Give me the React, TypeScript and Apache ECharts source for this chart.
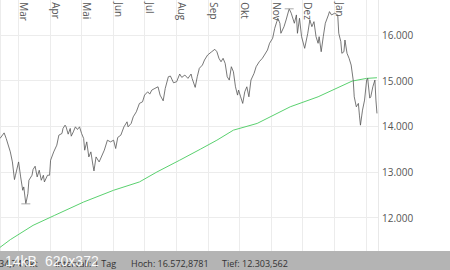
import React, { useEffect, useRef } from 'react';
import * as echarts from 'echarts';

const priceDates = [
  '2021-02-11','2021-02-15','2021-02-17','2021-02-21','2021-02-23','2021-02-25','2021-02-26',
  '2021-03-01','2021-03-03','2021-03-05','2021-03-06','2021-03-08','2021-03-10','2021-03-11','2021-03-14','2021-03-15','2021-03-17','2021-03-19','2021-03-21','2021-03-23','2021-03-25','2021-03-26','2021-03-29','2021-03-31',
  '2021-04-01','2021-04-04','2021-04-07','2021-04-09','2021-04-12','2021-04-13','2021-04-15','2021-04-16','2021-04-18','2021-04-20','2021-04-21','2021-04-23','2021-04-25','2021-04-27','2021-04-29',
  '2021-05-01','2021-05-03','2021-05-04','2021-05-06','2021-05-08','2021-05-10','2021-05-12','2021-05-13','2021-05-15','2021-05-18','2021-05-23','2021-05-26','2021-05-29',
  '2021-06-01','2021-06-03','2021-06-05','2021-06-08','2021-06-11','2021-06-14','2021-06-15','2021-06-18','2021-06-20','2021-06-23','2021-06-26','2021-06-29',
  '2021-07-01','2021-07-04','2021-07-06','2021-07-08','2021-07-11','2021-07-14','2021-07-16','2021-07-19','2021-07-21','2021-07-24','2021-07-26','2021-07-29',
  '2021-08-01','2021-08-04','2021-08-06','2021-08-09','2021-08-12','2021-08-15','2021-08-16','2021-08-19','2021-08-21','2021-08-23','2021-08-26','2021-08-28','2021-08-31',
  '2021-09-04','2021-09-07','2021-09-09','2021-09-11','2021-09-13','2021-09-15','2021-09-17','2021-09-19','2021-09-21','2021-09-23','2021-09-25','2021-09-27','2021-09-29','2021-09-30',
  '2021-10-02','2021-10-04','2021-10-06','2021-10-08','2021-10-10','2021-10-12','2021-10-15','2021-10-17','2021-10-20','2021-10-23','2021-10-25','2021-10-28','2021-10-30',
  '2021-11-02','2021-11-04','2021-11-06','2021-11-07','2021-11-09','2021-11-10','2021-11-13','2021-11-15','2021-11-18','2021-11-20','2021-11-23','2021-11-25','2021-11-26','2021-11-28','2021-11-30',
  '2021-12-03','2021-12-06','2021-12-08','2021-12-10','2021-12-12','2021-12-14','2021-12-16','2021-12-17','2021-12-19','2021-12-21','2021-12-23','2021-12-26','2021-12-27','2021-12-29',
  '2022-01-01','2022-01-04','2022-01-05','2022-01-07','2022-01-08','2022-01-10','2022-01-11','2022-01-13','2022-01-15','2022-01-17','2022-01-19','2022-01-20','2022-01-22','2022-01-24','2022-01-25','2022-01-26','2022-01-28','2022-01-30',
  '2022-02-01','2022-02-02','2022-02-04','2022-02-05','2022-02-07','2022-02-09','2022-02-10','2022-02-11'
];

const priceValues = [
  13735,13857,13735,13441,13221,12835,12930,
  13221,12893,12601,12674,12303.562,12528,12820,12930,13055,13127,12893,13040,12820,12930,12783,12930,12930,
  13259,13441,13588,13807,13844,13954,14026,13989,13829,13954,13785,13879,13989,13932,13989,
  13844,13735,13478,13660,13331,13441,13149,13024,13331,13221,13478,13697,13660,
  13697,13515,13757,13807,13989,14099,13989,14064,14208,14318,14502,14537,
  14684,14757,14706,14794,14831,14866,14684,14559,14831,15086,15101,14954,
  14976,15145,15072,15123,15050,15145,15050,14853,15086,15270,15342,15452,15561,
  15634,15686,15634,15489,15414,15489,15379,15086,15013,15305,15195,14866,14684,14794,
  14647,14502,14757,14866,14647,15013,15160,15305,15414,15489,15561,15671,15818,
  15928,16147,16292,16366,16257,16037,16182,16329,16572.8781,16476,16257,16439,16037,16366,15963,
  15708,16037,16329,16182,16292,15963,15818,15963,15634,15963,16257,16439,16511,16439,
  16476,16439,16037,15853,15599,15634,15890,15599,15489,15342,15013,14647,14428,14502,14246,14026,14355,14575,
  15013,15050,14618,14647,14866,15013,14575,14283
];

const maDates = [
  '2021-02-11','2021-02-21','2021-03-15','2021-04-05','2021-05-03','2021-06-01','2021-06-26',
  '2021-07-13','2021-08-04','2021-08-24','2021-09-09','2021-09-25','2021-10-18','2021-11-19',
  '2021-12-16','2022-01-18','2022-02-01','2022-02-11'
];
const maValues = [
  11351,11520,11833,12053,12344,12601,12783,
  13002,13259,13500,13697,13917,14064,14428,
  14647,14991,15050,15064
];

const monthLabels = ['Jan','Feb','Mar','Apr','Mai','Jun','Jul','Aug','Sep','Okt','Nov','Dez'];
const xMin = '2021-02-11';
const xMax = '2022-02-12';
const xLabelCutoff = '2022-01-15';
const yMin = 11000;
const yMax = 17000;
const yStep = 1000;

const infoTexts = ['34,74 Pkt', 'Intervall: 1 Tag', 'Hoch: 16.572,8781', 'Tief: 12.303,562'];
const infoX = [-1, 55, 131, 222];
const overlayTexts = ['14kB', '620x372'];
const overlayX = [5, 45];

function fmtThousands(v: number): string {
  return String(Math.round(v)).replace(/\B(?=(\d{3})+(?!\d))/g, '.');
}

export default function App() {
  const ref = useRef<HTMLDivElement>(null);
  useEffect(() => {
    const chart = echarts.init(ref.current!, null, { renderer: 'svg' });
    const cutoff = new Date(xLabelCutoff).getTime();
    const graphic: any[] = [
      { type: 'rect', shape: { x: 0, y: 251, width: 450, height: 19 }, style: { fill: '#b4b4b4' }, z: 100 },
    ];
    infoTexts.forEach((t, i) => {
      graphic.push({
        type: 'text', x: infoX[i], y: 263.5, z: 101,
        style: { text: t, fill: '#333', fontSize: 9, fontFamily: 'Open Sans', verticalAlign: 'middle' },
      });
    });
    overlayTexts.forEach((t, i) => {
      graphic.push({
        type: 'text', x: overlayX[i], y: 260.5, z: 102,
        style: { text: t, fill: '#ffffff', fontSize: 14, fontFamily: 'Liberation Sans', verticalAlign: 'middle', opacity: 0.95 },
      });
    });
    chart.setOption({
      animation: false,
      backgroundColor: '#ffffff',
      grid: { left: 0, right: 72, top: -10.7, bottom: 6.6, containLabel: false, outerBoundsMode: 'none' },
      xAxis: {
        type: 'time',
        position: 'top',
        min: xMin,
        max: xMax,
        minInterval: 28 * 86400000,
        maxInterval: 31 * 86400000,
        axisLine: { show: false },
        axisTick: { show: false },
        splitLine: { show: true, lineStyle: { color: '#ececec', width: 1 } },
        axisLabel: {
          inside: true,
          rotate: 90,
          verticalAlign: 'bottom',
          margin: 13,
          showMinLabel: false,
          showMaxLabel: false,
          color: '#555',
          fontSize: 10,
          fontFamily: 'Open Sans',
          formatter: (val: number) => {
            if (val > cutoff) return '';
            return monthLabels[new Date(val).getMonth()];
          },
        },
      },
      yAxis: {
        type: 'value',
        position: 'right',
        min: yMin,
        max: yMax,
        interval: yStep,
        axisLine: { show: true, lineStyle: { color: '#e8e8e8' } },
        axisTick: { show: false },
        splitLine: { show: true, lineStyle: { color: '#ececec', width: 1 } },
        axisLabel: {
          margin: 4,
          color: '#555',
          fontSize: 10,
          fontFamily: 'Open Sans',
          showMinLabel: false,
          showMaxLabel: false,
          formatter: (v: number) => fmtThousands(v),
        },
      },
      series: [
        {
          type: 'line',
          name: 'MA',
          data: maDates.map((d, i) => [d, maValues[i]]),
          symbol: 'none',
          lineStyle: { color: '#5ad16f', width: 1 },
          z: 2,
        },
        {
          type: 'line',
          name: 'Kurs',
          data: priceDates.map((d, i) => [d, priceValues[i]]),
          symbol: 'none',
          lineStyle: { color: '#555555', width: 0.8 },
          z: 3,
          markPoint: {
            symbol: 'rect',
            symbolSize: [9, 1],
            itemStyle: { color: '#aaaaaa' },
            label: { show: false },
            data: [{ type: 'max' }, { type: 'min' }],
          },
        },
      ],
      graphic,
    });
    return () => chart.dispose();
  }, []);
  return <div ref={ref} style={{ position: 'fixed', left: 0, top: 0, width: 450, height: 270 }} />;
}
